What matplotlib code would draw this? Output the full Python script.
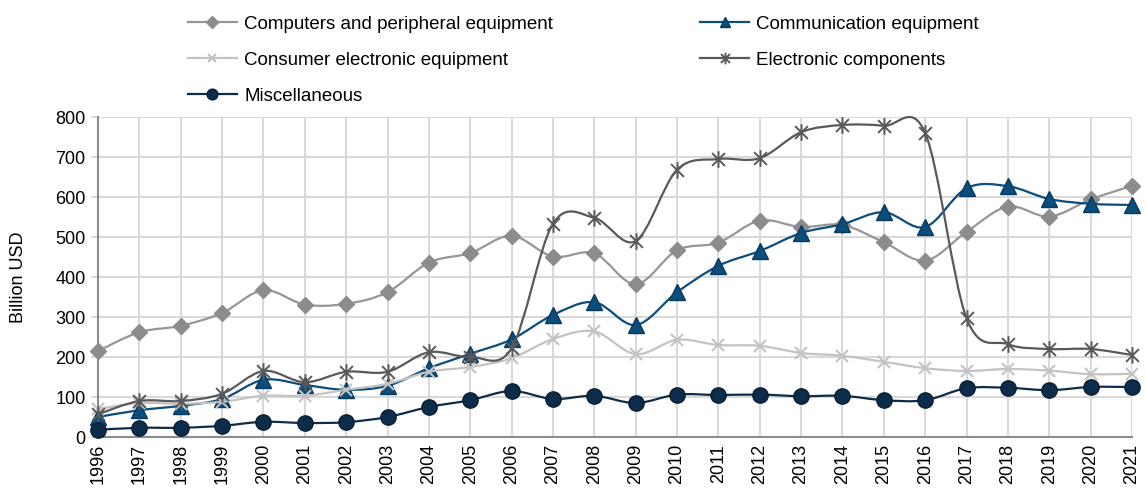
import numpy as np
import matplotlib
matplotlib.use('Agg')
import matplotlib.pyplot as plt
from matplotlib.path import Path
from matplotlib.patches import PathPatch
from matplotlib.lines import Line2D

plt.rcParams['font.family'] = ['Liberation Sans', 'DejaVu Sans']

## data (billion USD)
years = list(range(1996, 2022))
computers = [215, 262, 278, 310, 367, 331, 333, 362, 436, 460, 503, 451, 459, 382, 467,
             486, 541, 525, 530, 487, 441, 513, 576, 551, 594, 628]
communication = [50, 67, 78, 95, 143, 130, 118, 128, 172, 208, 244, 305, 337, 280, 362,
                 428, 465, 510, 532, 562, 525, 622, 627, 595, 583, 580]
consumer = [70, 85, 83, 88, 103, 103, 118, 133, 163, 175, 197, 245, 264, 207, 243,
            230, 228, 210, 203, 188, 172, 165, 170, 166, 157, 158]
components = [57, 90, 90, 108, 165, 137, 163, 163, 212, 200, 222, 533, 548, 490, 668,
              695, 697, 762, 780, 778, 760, 297, 232, 220, 220, 205]
misc = [18, 23, 23, 28, 38, 35, 37, 50, 75, 92, 115, 95, 103, 85, 106,
        105, 106, 102, 103, 92, 92, 122, 123, 117, 125, 125]

labels = ['Computers and peripheral equipment', 'Communication equipment',
          'Consumer electronic equipment', 'Electronic components', 'Miscellaneous']

## asterisk marker (x with a vertical bar)
star = Path([(-1, -1), (1, 1), (-1, 1), (1, -1), (0, -1.3), (0, 1.3)],
            [Path.MOVETO, Path.LINETO, Path.MOVETO, Path.LINETO, Path.MOVETO, Path.LINETO])

styles = [
    dict(color='#969696', marker='D', ms=8.5, mfc='#8c8c8c', mec='#8c8c8c', mew=1),
    dict(color='#0b4d7c', marker='^', ms=11, mfc='#0b4d7c', mec='#083a5e', mew=1),
    dict(color='#c3c3c3', marker='x', ms=9, mfc='#c3c3c3', mec='#c3c3c3', mew=1.5),
    dict(color='#595959', marker=star, ms=12, mfc='#595959', mec='#595959', mew=1.4),
    dict(color='#0c2d4a', marker='o', ms=11, mfc='#0c2d4a', mec='#081e33', mew=1),
]


def smooth_path(x, y):
    ## bezier curve through the points, like a smoothed office line
    pts = np.column_stack([x, y]).astype(float)
    n = len(pts)
    verts = [pts[0]]
    codes = [Path.MOVETO]
    for i in range(n - 1):
        p0 = pts[max(i - 1, 0)]
        p1 = pts[i]
        p2 = pts[i + 1]
        p3 = pts[min(i + 2, n - 1)]
        verts += [p1 + (p2 - p0) / 6, p2 - (p3 - p1) / 6, p2]
        codes += [Path.CURVE4] * 3
    return Path(verts, codes)


fig = plt.figure(figsize=(11.46, 4.9), dpi=100)
ax = fig.add_axes([98 / 1146, 53 / 490, 1034 / 1146, 320 / 490])

series = [computers, communication, consumer, components, misc]
handles = []
for k, (vals, st, lab) in enumerate(zip(series, styles, labels)):
    patch = PathPatch(smooth_path(years, vals), fill=False, edgecolor=st['color'],
                      lw=1.6, zorder=3 + k, clip_on=False)
    ax.add_patch(patch)
    ax.plot(years, vals, linestyle='none', marker=st['marker'], ms=st['ms'],
            mfc=st['mfc'], mec=st['mec'], mew=st['mew'], zorder=3 + k, clip_on=False)
    handles.append(Line2D([], [], color=st['color'], lw=1.6, marker=st['marker'],
                          ms=st['ms'] * 0.7, mfc=st['mfc'], mec=st['mec'], mew=st['mew']))

ax.set_xlim(1996, 2021)
ax.set_ylim(0, 800)
ax.set_xticks(years)
ax.set_xticklabels([str(y) for y in years], rotation=90, fontsize=13)
ax.set_yticks(range(0, 801, 100))
ax.tick_params(axis='y', labelsize=13, length=5, width=1.5, color='#d9d9d9', pad=4)
ax.tick_params(axis='x', length=0, pad=5)
ax.grid(True, color='#d9d9d9', lw=1.5)
ax.set_axisbelow(True)
for side in ['top', 'right']:
    ax.spines[side].set_visible(False)
for side in ['left', 'bottom']:
    ax.spines[side].set_color('#8c8c8c')
    ax.spines[side].set_linewidth(1.5)
    ax.spines[side].set_zorder(2.5)
ax.set_ylabel('Billion USD', fontsize=13, labelpad=20)

## legend: column-wise order so the first column holds three entries
order = [0, 2, 4, 1, 3]
fig.legend([handles[i] for i in order], [labels[i] for i in order], ncol=2,
           loc='upper left', bbox_to_anchor=(172 / 1146, 1.0), frameon=False,
           fontsize=13.5, handlelength=2.6, handletextpad=0.4, labelspacing=1.0,
           columnspacing=7.85, borderaxespad=0.45)

fig.savefig('out.png', dpi=100)
